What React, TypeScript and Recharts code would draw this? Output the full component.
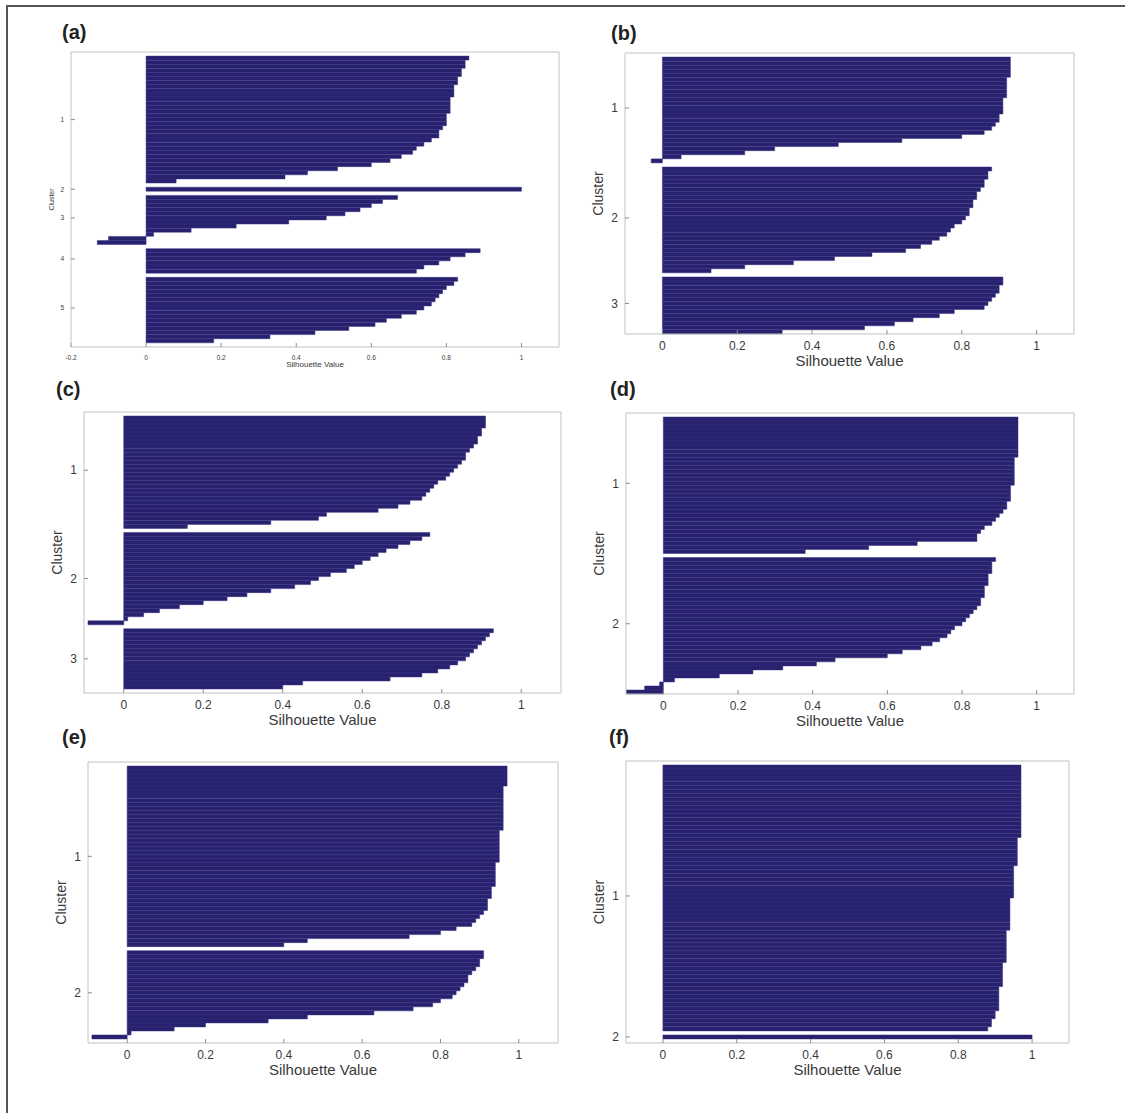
import { Bar, BarChart, XAxis, YAxis } from "recharts";

// silhouette values per cluster, top row first
const a1 = [0.86, 0.85, 0.85, 0.84, 0.84, 0.83, 0.83, 0.82, 0.82, 0.82, 0.81, 0.81, 0.81, 0.81, 0.8, 0.8, 0.8, 0.79, 0.78, 0.78, 0.76, 0.74, 0.72, 0.71, 0.68, 0.65, 0.6, 0.51, 0.43, 0.37, 0.08];
const a2 = [1.0];
const a3 = [0.67, 0.63, 0.6, 0.57, 0.53, 0.48, 0.38, 0.24, 0.12, 0.02, -0.1, -0.13];
const a4 = [0.89, 0.85, 0.81, 0.78, 0.74, 0.72];
const a5 = [0.83, 0.82, 0.8, 0.79, 0.78, 0.77, 0.76, 0.74, 0.72, 0.68, 0.64, 0.61, 0.54, 0.45, 0.33, 0.18];

const b1 = [0.93, 0.93, 0.93, 0.93, 0.93, 0.92, 0.92, 0.92, 0.92, 0.92, 0.91, 0.91, 0.91, 0.91, 0.9, 0.9, 0.89, 0.88, 0.86, 0.8, 0.64, 0.47, 0.3, 0.22, 0.05, -0.03];
const b2 = [0.88, 0.87, 0.87, 0.86, 0.86, 0.85, 0.84, 0.84, 0.83, 0.83, 0.82, 0.82, 0.81, 0.8, 0.78, 0.77, 0.76, 0.74, 0.72, 0.69, 0.65, 0.56, 0.46, 0.35, 0.22, 0.13];
const b3 = [0.91, 0.91, 0.9, 0.9, 0.89, 0.88, 0.87, 0.86, 0.78, 0.74, 0.67, 0.62, 0.54, 0.32];

const c1 = [0.91, 0.91, 0.91, 0.9, 0.9, 0.89, 0.89, 0.88, 0.87, 0.86, 0.86, 0.85, 0.84, 0.83, 0.82, 0.81, 0.79, 0.78, 0.77, 0.76, 0.75, 0.72, 0.69, 0.64, 0.51, 0.49, 0.37, 0.16];
const c2 = [0.77, 0.75, 0.72, 0.69, 0.66, 0.64, 0.62, 0.6, 0.58, 0.56, 0.52, 0.49, 0.47, 0.43, 0.37, 0.31, 0.26, 0.2, 0.14, 0.09, 0.05, 0.01, -0.09];
const c3 = [0.93, 0.92, 0.91, 0.9, 0.89, 0.88, 0.87, 0.86, 0.84, 0.82, 0.79, 0.75, 0.67, 0.45, 0.4];

const d1 = [0.95, 0.95, 0.95, 0.95, 0.95, 0.95, 0.95, 0.95, 0.95, 0.95, 0.94, 0.94, 0.94, 0.94, 0.94, 0.94, 0.94, 0.93, 0.93, 0.93, 0.93, 0.92, 0.92, 0.91, 0.9, 0.89, 0.88, 0.86, 0.85, 0.84, 0.84, 0.68, 0.55, 0.38];
const d2 = [0.89, 0.88, 0.88, 0.88, 0.87, 0.87, 0.87, 0.86, 0.86, 0.86, 0.85, 0.85, 0.84, 0.83, 0.82, 0.81, 0.8, 0.78, 0.77, 0.76, 0.74, 0.72, 0.69, 0.64, 0.6, 0.46, 0.41, 0.32, 0.24, 0.15, 0.03, -0.01, -0.05, -0.1];

const e1 = [0.97, 0.97, 0.97, 0.97, 0.97, 0.96, 0.96, 0.96, 0.96, 0.96, 0.96, 0.96, 0.96, 0.96, 0.96, 0.96, 0.95, 0.95, 0.95, 0.95, 0.95, 0.95, 0.95, 0.95, 0.94, 0.94, 0.94, 0.94, 0.94, 0.94, 0.93, 0.93, 0.93, 0.92, 0.92, 0.92, 0.91, 0.9, 0.89, 0.88, 0.84, 0.8, 0.72, 0.46, 0.4];
const e2 = [0.91, 0.91, 0.9, 0.9, 0.89, 0.88, 0.87, 0.87, 0.86, 0.85, 0.84, 0.83, 0.8, 0.78, 0.73, 0.63, 0.46, 0.36, 0.2, 0.12, 0.01, -0.09];

const f1 = [0.97, 0.97, 0.97, 0.97, 0.97, 0.97, 0.97, 0.97, 0.97, 0.97, 0.97, 0.97, 0.97, 0.97, 0.97, 0.97, 0.97, 0.97, 0.96, 0.96, 0.96, 0.96, 0.96, 0.96, 0.96, 0.95, 0.95, 0.95, 0.95, 0.95, 0.95, 0.95, 0.95, 0.94, 0.94, 0.94, 0.94, 0.94, 0.94, 0.94, 0.94, 0.93, 0.93, 0.93, 0.93, 0.93, 0.93, 0.93, 0.93, 0.92, 0.92, 0.92, 0.92, 0.92, 0.92, 0.91, 0.91, 0.91, 0.91, 0.91, 0.91, 0.9, 0.9, 0.89, 0.89, 0.88];
const f2 = [1.0];

const ticksA = [-0.2, 0, 0.2, 0.4, 0.6, 0.8, 1];
const ticksStd = [0, 0.2, 0.4, 0.6, 0.8, 1];

const NAVY = "#28216d";
const STRIPE = "#353087";
const BOX = "#c2c2c2";
const TICK = "#8c8c8c";
const TEXT = "#3a3a3a";

type Box = { x: number; y: number; w: number; h: number };
type Panel = {
  title: string;
  tx: number;
  ty: number;
  clusters: number[][];
  pads: [number, number, number];
  box: Box;
  domain: [number, number];
  ticks: number[];
  small?: boolean;
};

const panels: Panel[] = [
  { title: "(a)", tx: 62, ty: 22, clusters: [a1, a2, a3, a4, a5], pads: [1, 1, 1], box: { x: 71, y: 52, w: 488, h: 295 }, domain: [-0.2, 1.1], ticks: ticksA, small: true },
  { title: "(b)", tx: 611, ty: 23, clusters: [b1, b2, b3], pads: [1, 1, 0], box: { x: 625, y: 53, w: 449, h: 281 }, domain: [-0.1, 1.1], ticks: ticksStd },
  { title: "(c)", tx: 56, ty: 379, clusters: [c1, c2, c3], pads: [1, 1, 1], box: { x: 84, y: 412, w: 477, h: 281 }, domain: [-0.1, 1.1], ticks: ticksStd },
  { title: "(d)", tx: 610, ty: 379, clusters: [d1, d2], pads: [1, 1, 0], box: { x: 626, y: 413, w: 448, h: 281 }, domain: [-0.1, 1.1], ticks: ticksStd },
  { title: "(e)", tx: 62, ty: 727, clusters: [e1, e2], pads: [1, 1, 1], box: { x: 88, y: 762, w: 470, h: 281 }, domain: [-0.1, 1.1], ticks: ticksStd },
  { title: "(f)", tx: 609, ty: 727, clusters: [f1, f2], pads: [1, 1, 1], box: { x: 626, y: 761, w: 443, h: 282 }, domain: [-0.1, 1.1], ticks: ticksStd },
];

type Row = { row: string; v: number | null };

// lay the clusters out as bar rows with blank rows between them, like matlab's silhouette()
function buildRows(clusters: number[][], pads: [number, number, number]) {
  const rows: Row[] = [];
  const centers: string[] = [];
  const labels: Record<string, string> = {};
  const push = (v: number | null) => rows.push({ row: String(rows.length), v });
  for (let i = 0; i < pads[0]; i++) push(null);
  clusters.forEach((vals, ci) => {
    if (ci > 0) for (let i = 0; i < pads[1]; i++) push(null);
    const start = rows.length;
    vals.forEach((v) => push(v));
    const mid = String(start + Math.floor((vals.length - 1) / 2));
    centers.push(mid);
    labels[mid] = String(ci + 1);
  });
  for (let i = 0; i < pads[2]; i++) push(null);
  return { rows, centers, labels };
}

function Silhouette({ p }: { p: Panel }) {
  const { rows, centers, labels } = buildRows(p.clusters, p.pads);
  const tickFont = p.small ? 6.5 : 12;
  const labelFont = p.small ? 8 : 15;
  const clusterFont = p.small ? 7 : 14;
  return (
    <>
      <div
        style={{
          position: "absolute",
          left: p.tx,
          top: p.ty,
          fontSize: 20,
          fontWeight: "bold",
          lineHeight: "20px",
          color: "#222",
        }}
      >
        {p.title}
      </div>
      <div style={{ position: "absolute", left: p.box.x - 60, top: p.box.y - 11 }}>
        <BarChart
          width={p.box.w + 71}
          height={p.box.h + 56}
          data={rows}
          layout="vertical"
          margin={{ top: 10, right: 10, bottom: 0, left: 0 }}
          barCategoryGap={0}
          barGap={0}
        >
          <XAxis
            type="number"
            domain={p.domain}
            ticks={p.ticks}
            allowDataOverflow
            interval={0}
            height={45}
            axisLine={{ stroke: BOX }}
            tickLine={{ stroke: TICK }}
            tickSize={-4}
            tickMargin={p.small ? 12 : 11}
            tick={{ fontSize: tickFont, fill: TEXT }}
            tickFormatter={(v) => String(v)}
            label={{
              value: "Silhouette Value",
              position: "insideTop",
              offset: p.small ? 14 : 21,
              fontSize: labelFont,
              fill: TEXT,
            }}
          />
          <XAxis
            xAxisId="top"
            orientation="top"
            type="number"
            domain={p.domain}
            ticks={p.ticks}
            allowDataOverflow
            interval={0}
            height={1}
            axisLine={{ stroke: BOX }}
            tickLine={{ stroke: TICK }}
            tickSize={-4}
            tick={false}
          />
          <YAxis
            type="category"
            dataKey="row"
            ticks={centers}
            interval={0}
            width={60}
            axisLine={{ stroke: BOX }}
            tickLine={{ stroke: TICK }}
            tickSize={-4}
            tickMargin={11}
            tick={{ fontSize: tickFont, fill: TEXT }}
            tickFormatter={(r) => labels[r] ?? ""}
            label={{
              value: "Cluster",
              angle: -90,
              position: "insideLeft",
              offset: p.small ? 41 : 33,
              fontSize: clusterFont,
              fill: TEXT,
              style: { textAnchor: "middle" },
            }}
          />
          <YAxis
            yAxisId="right"
            orientation="right"
            type="category"
            dataKey="row"
            ticks={centers}
            interval={0}
            width={1}
            axisLine={{ stroke: BOX }}
            tickLine={{ stroke: TICK }}
            tickSize={-4}
            tick={false}
          />
          <Bar
            dataKey="v"
            fill={NAVY}
            stroke={STRIPE}
            strokeWidth={0.5}
            isAnimationActive={false}
          />
        </BarChart>
      </div>
    </>
  );
}

export default function App() {
  return (
    <div
      style={{
        position: "absolute",
        left: 0,
        top: 0,
        width: 1125,
        height: 1113,
        background: "#fff",
        overflow: "hidden",
        fontFamily: "'Liberation Sans', Arial, sans-serif",
      }}
    >
      <div style={{ position: "absolute", left: 6, top: 5, width: 1125, height: 2, background: "#555" }} />
      <div style={{ position: "absolute", left: 6, top: 5, width: 2, height: 1113, background: "#555" }} />
      {panels.map((p) => (
        <Silhouette key={p.title} p={p} />
      ))}
    </div>
  );
}
